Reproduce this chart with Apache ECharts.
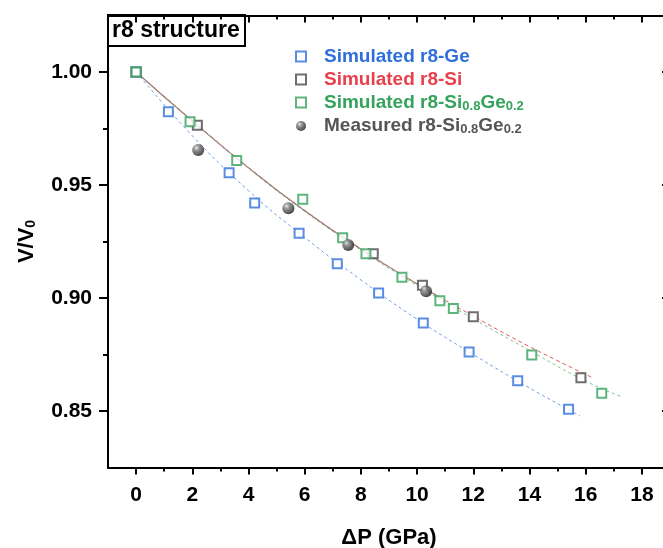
<!DOCTYPE html>
<html>
<head>
<meta charset="utf-8">
<script src="https://cdn.jsdelivr.net/npm/echarts@6/dist/echarts.min.js"></script>
<style>
  html, body { margin: 0; padding: 0; background: #fff; }
  #chart { width: 663px; height: 548px; }
</style>
</head>
<body>
<div id="chart"></div>
<script>
// Pressure (GPa) and relative volume for each r8 phase
const geP   = [0, 1.15, 3.31, 4.22, 5.80, 7.16, 8.63, 10.22, 11.85, 13.58, 15.39];
const geV   = [1.000, 0.9824, 0.9554, 0.9420, 0.9286, 0.9152, 0.9022, 0.8889, 0.8761, 0.8634, 0.8508];
const siP   = [0, 2.18, 8.44, 10.19, 12.00, 15.83];
const siV   = [1.000, 0.9764, 0.9196, 0.9056, 0.8917, 0.8647];
const sigeP = [0, 1.92, 3.58, 5.93, 7.35, 8.18, 9.46, 10.81, 11.29, 14.08, 16.57];
const sigeV = [1.000, 0.9780, 0.9608, 0.9437, 0.9267, 0.9196, 0.9092, 0.8988, 0.8954, 0.8748, 0.8579];
const measP = [2.21, 5.42, 7.55, 10.32];
const measV = [0.9655, 0.9397, 0.9235, 0.9030];

// Equation-of-state fit curves
const geFitP   = [0, 2, 4, 6, 8, 10, 12, 14, 15.8];
const geFitV   = [1.000, 0.9718, 0.9475, 0.9268, 0.9080, 0.8906, 0.8750, 0.8602, 0.8478];
const siFitP   = [0, 2, 4, 6, 8, 10, 12, 14, 16.2];
const siFitV   = [1.000, 0.9785, 0.9578, 0.9388, 0.9218, 0.9063, 0.8920, 0.8785, 0.8650];
const sigeFitP = [0, 2, 4, 6, 8, 10, 12, 14, 16, 17.3];
const sigeFitV = [1.000, 0.9783, 0.9574, 0.9383, 0.9212, 0.9055, 0.8908, 0.8768, 0.8632, 0.8562];
const measFitP = [0, 2, 4, 6, 8, 10, 10.8];
const measFitV = [1.000, 0.9783, 0.9576, 0.9386, 0.9216, 0.9062, 0.9003];

// Axis ticks
const xMajor = [0, 2, 4, 6, 8, 10, 12, 14, 16, 18];
const xMinor = [1, 3, 5, 7, 9, 11, 13, 15, 17];
const yMajor = [0.85, 0.90, 0.95, 1.00];
const yMinor = [0.875, 0.925, 0.975];

const legendNames = [
  'Simulated r8-Ge',
  'Simulated r8-Si',
  'Simulated r8-Si0.8Ge0.2',
  'Measured r8-Si0.8Ge0.2'
];

const C_GE = '#2f6fdb', C_SI_TXT = '#e8414c', C_SI = '#4a4a4a', C_SIGE = '#35a35c', C_MEAS = '#555555';
const FONT = '"Liberation Sans", Arial, sans-serif';

const zip = (a, b) => a.map((v, i) => [v, b[i]]);

const sphere = new echarts.graphic.RadialGradient(0.35, 0.32, 0.7, [
  { offset: 0, color: '#e6e6e6' },
  { offset: 0.35, color: '#777' },
  { offset: 1, color: '#1a1a1a' }
]);

function baseAxis(extra) {
  return Object.assign({
    type: 'value',
    splitLine: { show: false },
    axisLine: { show: false, onZero: false },
    axisLabel: { show: false },
    axisTick: { show: false }
  }, extra);
}

const xRange = { min: -1, max: 19 };
const yRange = { min: 0.825, max: 1.025 };
const BLACK2 = { color: '#000', width: 2 };

function squareSeries(name, p, v, color) {
  return {
    name, type: 'scatter', data: zip(p, v), symbol: 'rect', symbolSize: 9,
    itemStyle: { color: '#fff', borderColor: color, borderWidth: 2 }, z: 5
  };
}
function fitSeries(name, p, v, color, type, width) {
  return {
    name, type: 'line', data: zip(p, v), smooth: true, symbol: 'none', silent: true,
    lineStyle: { color, width: width || 1, type: type || [4, 3] }, z: 3
  };
}

const sub = (c) => ({ color: c, fontSize: 13, fontWeight: 'bold', fontFamily: FONT, verticalAlign: 'bottom', padding: [7, 0, 0, 0] });

const option = {
  backgroundColor: '#fff',
  animation: false,
  title: {
    text: 'r8 structure',
    left: 108, top: 15,
    padding: [4, 5, 4, 4],
    borderColor: '#000', borderWidth: 2,
    textStyle: { fontFamily: FONT, fontSize: 23, fontWeight: 'bold', color: '#000' }
  },
  grid: { left: 108, top: 15.5, width: 562, height: 452, outerBoundsMode: 'none', containLabel: false },
  legend: {
    orient: 'vertical',
    left: 290, top: 42,
    itemWidth: 10, itemHeight: 10, itemGap: 4,
    textStyle: { fontFamily: FONT, fontSize: 19, fontWeight: 'bold', padding: [0, 0, 0, 13] },
    formatter: (n) => n.replace(/Si0\.8Ge0\.2/, 'Si{s|0.8}Ge{s|0.2}'),
    data: [
      { name: legendNames[0], textStyle: { color: C_GE } },
      { name: legendNames[1], textStyle: { color: C_SI_TXT } },
      { name: legendNames[2], textStyle: { color: C_SIGE, rich: { s: sub(C_SIGE) } } },
      { name: legendNames[3], textStyle: { color: C_MEAS, rich: { s: sub(C_MEAS) } } }
    ]
  },
  xAxis: [
    baseAxis(Object.assign({
      position: 'bottom',
      name: 'ΔP (GPa)', nameLocation: 'middle', nameGap: 59,
      nameTextStyle: { fontFamily: FONT, fontSize: 22, fontWeight: 'bold', color: '#000' },
      axisLine: { show: true, onZero: false, lineStyle: BLACK2 },
      axisTick: { show: true, customValues: xMajor, length: 7, lineStyle: BLACK2 },
      axisLabel: { show: true, customValues: xMajor, margin: 17, fontFamily: FONT, fontSize: 21, fontWeight: 'bold', color: '#000' }
    }, xRange)),
    baseAxis(Object.assign({
      position: 'bottom',
      axisTick: { show: true, customValues: xMinor, length: 4, lineStyle: BLACK2 }
    }, xRange)),
    baseAxis(Object.assign({
      position: 'top',
      axisLine: { show: true, onZero: false, lineStyle: BLACK2 },
      axisTick: { show: true, inside: true, customValues: xMajor, length: 7, lineStyle: BLACK2 }
    }, xRange)),
    baseAxis(Object.assign({
      position: 'top',
      axisTick: { show: true, inside: true, customValues: xMinor, length: 4, lineStyle: BLACK2 }
    }, xRange))
  ],
  yAxis: [
    baseAxis(Object.assign({
      position: 'left',
      name: 'V/V{s|0}', nameLocation: 'middle', nameGap: 70, nameRotate: 90,
      nameTextStyle: {
        fontFamily: FONT, fontSize: 22, fontWeight: 'bold', color: '#000',
        rich: { s: { fontFamily: FONT, fontSize: 14, fontWeight: 'bold', color: '#000', verticalAlign: 'bottom', padding: [8, 0, 0, 0] } }
      },
      axisLine: { show: true, onZero: false, lineStyle: BLACK2 },
      axisTick: { show: true, customValues: yMajor, length: 9, lineStyle: BLACK2 },
      axisLabel: {
        show: true, customValues: yMajor, margin: 16,
        formatter: (v) => v.toFixed(2),
        fontFamily: FONT, fontSize: 21, fontWeight: 'bold', color: '#000'
      }
    }, yRange)),
    baseAxis(Object.assign({
      position: 'left',
      axisTick: { show: true, customValues: yMinor, length: 5, lineStyle: BLACK2 }
    }, yRange)),
    baseAxis(Object.assign({
      position: 'right',
      axisLine: { show: true, onZero: false, lineStyle: BLACK2 },
      axisTick: { show: true, inside: true, customValues: yMajor, length: 8, lineStyle: BLACK2 }
    }, yRange)),
    baseAxis(Object.assign({
      position: 'right',
      axisTick: { show: true, inside: true, customValues: yMinor, length: 5, lineStyle: BLACK2 }
    }, yRange))
  ],
  series: [
    fitSeries('fit-Ge', geFitP, geFitV, '#6f9de4', [3, 3], 1),
    fitSeries('fit-Si', siFitP, siFitV, '#e45a5a', [4, 3], 1),
    fitSeries('fit-SiGe', sigeFitP, sigeFitV, '#7cc493', [3, 3], 1),
    fitSeries('fit-measured', measFitP, measFitV, '#9a7f74', 'solid', 1.1),
    squareSeries(legendNames[0], geP, geV, C_GE),
    squareSeries(legendNames[1], siP, siV, C_SI),
    squareSeries(legendNames[2], sigeP, sigeV, C_SIGE),
    {
      name: legendNames[3], type: 'scatter', data: zip(measP, measV),
      symbol: 'circle', symbolSize: 12,
      itemStyle: { color: sphere }, z: 6
    }
  ]
};

const chart = echarts.init(document.getElementById('chart'), null, { renderer: 'canvas' });
chart.setOption(option);
</script>
</body>
</html>
